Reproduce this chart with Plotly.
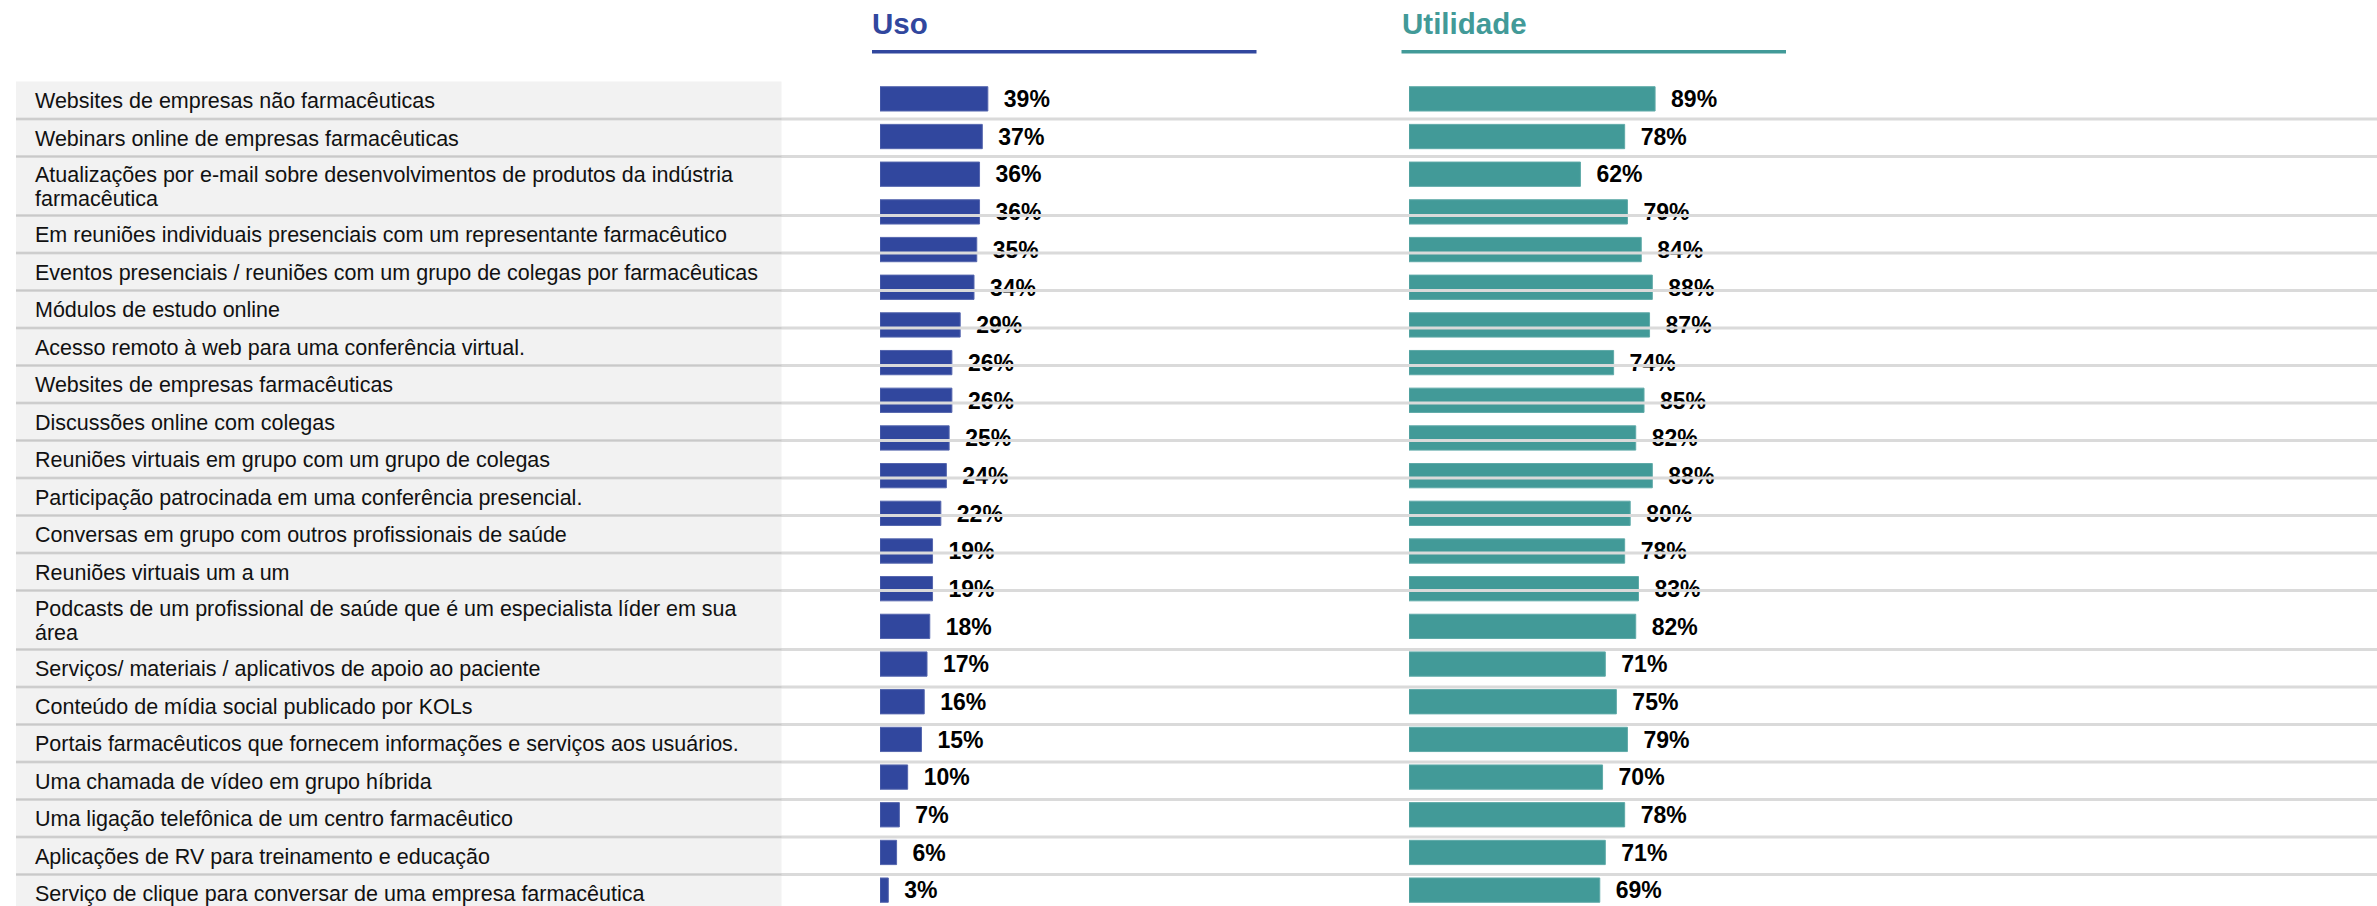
import plotly.graph_objects as go

W, H = 2377, 906

# ---------------- data ----------------
labels = [
    "Websites de empresas não farmacêuticas",
    "Webinars online de empresas farmacêuticas",
    "Atualizações por e-mail sobre desenvolvimentos de produtos da indústria<br>farmacêutica",
    "Em reuniões individuais presenciais com um representante farmacêutico",
    "Eventos presenciais / reuniões com um grupo de colegas por farmacêuticas",
    "Módulos de estudo online",
    "Acesso remoto à web para uma conferência virtual.",
    "Websites de empresas farmacêuticas",
    "Discussões online com colegas",
    "Reuniões virtuais em grupo com um grupo de colegas",
    "Participação patrocinada em uma conferência presencial.",
    "Conversas em grupo com outros profissionais de saúde",
    "Reuniões virtuais um a um",
    "Podcasts de um profissional de saúde que é um especialista líder em sua<br>área",
    "Serviços/ materiais / aplicativos de apoio ao paciente",
    "Conteúdo de mídia social publicado por KOLs",
    "Portais farmacêuticos que fornecem informações e serviços aos usuários.",
    "Uma chamada de vídeo em grupo híbrida",
    "Uma ligação telefônica de um centro farmacêutico",
    "Aplicações de RV para treinamento e educação",
    "Serviço de clique para conversar de uma empresa farmacêutica",
]
uso = [39, 37, 36, 36, 35, 34, 29, 26, 26, 25, 24, 22, 19, 19, 18, 17, 16, 15, 10, 7, 6, 3]
utilidade = [89, 78, 62, 79, 84, 88, 87, 74, 85, 82, 88, 80, 78, 83, 82, 71, 75, 79, 70, 78, 71, 69]
series_titles = ["Uso", "Utilidade"]

# ---------------- style / layout constants ----------------
BLUE = "#31479E"
TEAL = "#429A98"
PANEL = "#F2F2F2"
SEP_OUT = "#DADADA"
SEP_IN = "#C9C9C9"
FONT = "Arial, Liberation Sans, sans-serif"

PX_PER_PCT = 2.765
USO_X0 = 880.0
UTIL_X0 = 1409.0
BAR_PITCH = 37.68
BAR0_CENTER = 98.85
BAR_H = 24.3

PANEL_X0, PANEL_X1 = 16.0, 781.5
PANEL_TOP = 81.5
ROW_H = 37.5
EXTRA_LINE = 21.5
LINE_GAP = 24.5
TEXT_X = 33.0
LABEL_SIZE = 21.5
VALUE_SIZE = 23
TITLE_SIZE = 29.5
VALUE_GAP_PX = 16.0
VALUE_DROP_PX = 2.5


def px(x):
    return x / W


def py(y):
    return 1 - y / H


# y axis so that bar i is centred at BAR0_CENTER + i*BAR_PITCH (pixels)
span = H / BAR_PITCH
y_top = -BAR0_CENTER / BAR_PITCH
y_range = [y_top + span, y_top]

fig = go.Figure()
idx = list(range(len(uso)))

fig.add_trace(go.Bar(
    x=uso, y=idx, orientation="h", width=BAR_H / BAR_PITCH,
    marker=dict(color=BLUE, line=dict(color="#5566AE", width=1)),
    xaxis="x", yaxis="y", hoverinfo="skip", showlegend=False,
))
fig.add_trace(go.Bar(
    x=utilidade, y=idx, orientation="h", width=BAR_H / BAR_PITCH,
    marker=dict(color=TEAL, line=dict(color="#5FAAA8", width=1)),
    xaxis="x2", yaxis="y", hoverinfo="skip", showlegend=False,
))

gap_units = VALUE_GAP_PX / PX_PER_PCT
drop_units = VALUE_DROP_PX / BAR_PITCH
for vals, xa in ((uso, "x"), (utilidade, "x2")):
    fig.add_trace(go.Scatter(
        x=[v + gap_units for v in vals], y=[i + drop_units for i in idx], mode="text",
        text=[f"{v}%" for v in vals], textposition="middle right",
        textfont=dict(family=FONT, size=VALUE_SIZE, color="#000000", weight="bold"),
        xaxis=xa, yaxis="y", hoverinfo="skip", showlegend=False, cliponaxis=False,
    ))

R = 100
fig.update_layout(
    width=W, height=H,
    margin=dict(l=0, r=0, t=0, b=0),
    paper_bgcolor="white", plot_bgcolor="rgba(0,0,0,0)",
    xaxis=dict(domain=[px(USO_X0), px(USO_X0 + R * PX_PER_PCT)], range=[0, R],
               visible=False, fixedrange=True),
    xaxis2=dict(domain=[px(UTIL_X0), px(UTIL_X0 + R * PX_PER_PCT)], range=[0, R],
                visible=False, fixedrange=True, anchor="y"),
    yaxis=dict(domain=[0, 1], range=y_range, visible=False, fixedrange=True),
    bargap=0,
)

shapes = []
annotations = []

# label panel rows
row_bounds = []
y = PANEL_TOP
for lab in labels:
    lines = lab.split("<br>")
    h = ROW_H + EXTRA_LINE * (len(lines) - 1)
    row_bounds.append((y, y + h, lines))
    y += h

shapes.append(dict(type="rect", xref="paper", yref="paper",
                   x0=px(PANEL_X0), x1=px(PANEL_X1), y0=py(PANEL_TOP), y1=py(H + 5),
                   fillcolor=PANEL, line=dict(width=0), layer="below"))

for i, (y0, y1, lines) in enumerate(row_bounds):
    if i > 0:
        shapes.append(dict(type="line", xref="paper", yref="paper",
                           x0=px(PANEL_X0), x1=1, y0=py(y0), y1=py(y0),
                           line=dict(color=SEP_OUT, width=3), layer="above"))
        shapes.append(dict(type="line", xref="paper", yref="paper",
                           x0=px(PANEL_X0), x1=px(PANEL_X1), y0=py(y0), y1=py(y0),
                           line=dict(color=SEP_IN, width=1.5), layer="above"))
    mid = (y0 + y1) / 2 + 1.0
    n = len(lines)
    for k, t in enumerate(lines):
        yy = mid + (k - (n - 1) / 2) * LINE_GAP
        annotations.append(dict(
            xref="paper", yref="paper", x=px(TEXT_X), y=py(yy),
            xanchor="left", yanchor="middle", showarrow=False, text=t,
            font=dict(family=FONT, size=LABEL_SIZE, color="#111111"),
        ))

# column titles with underline
for title, col, x0 in ((series_titles[0], BLUE, 870.0), (series_titles[1], TEAL, 1399.5)):
    annotations.append(dict(
        xref="paper", yref="paper", x=px(x0), y=py(23.5),
        xanchor="left", yanchor="middle", showarrow=False, text=title,
        font=dict(family=FONT, size=TITLE_SIZE, color=col, weight="bold"),
    ))
    shapes.append(dict(type="line", xref="paper", yref="paper",
                       x0=px(x0 + 2), x1=px(x0 + 386.5), y0=py(51.7), y1=py(51.7),
                       line=dict(color=col, width=3.5)))

fig.update_layout(shapes=shapes, annotations=annotations)
fig.write_html(
    "out.html",
    config={"displayModeBar": False, "staticPlot": True},
    post_script="document.body.style.margin='0';document.body.style.overflow='hidden';",
)
